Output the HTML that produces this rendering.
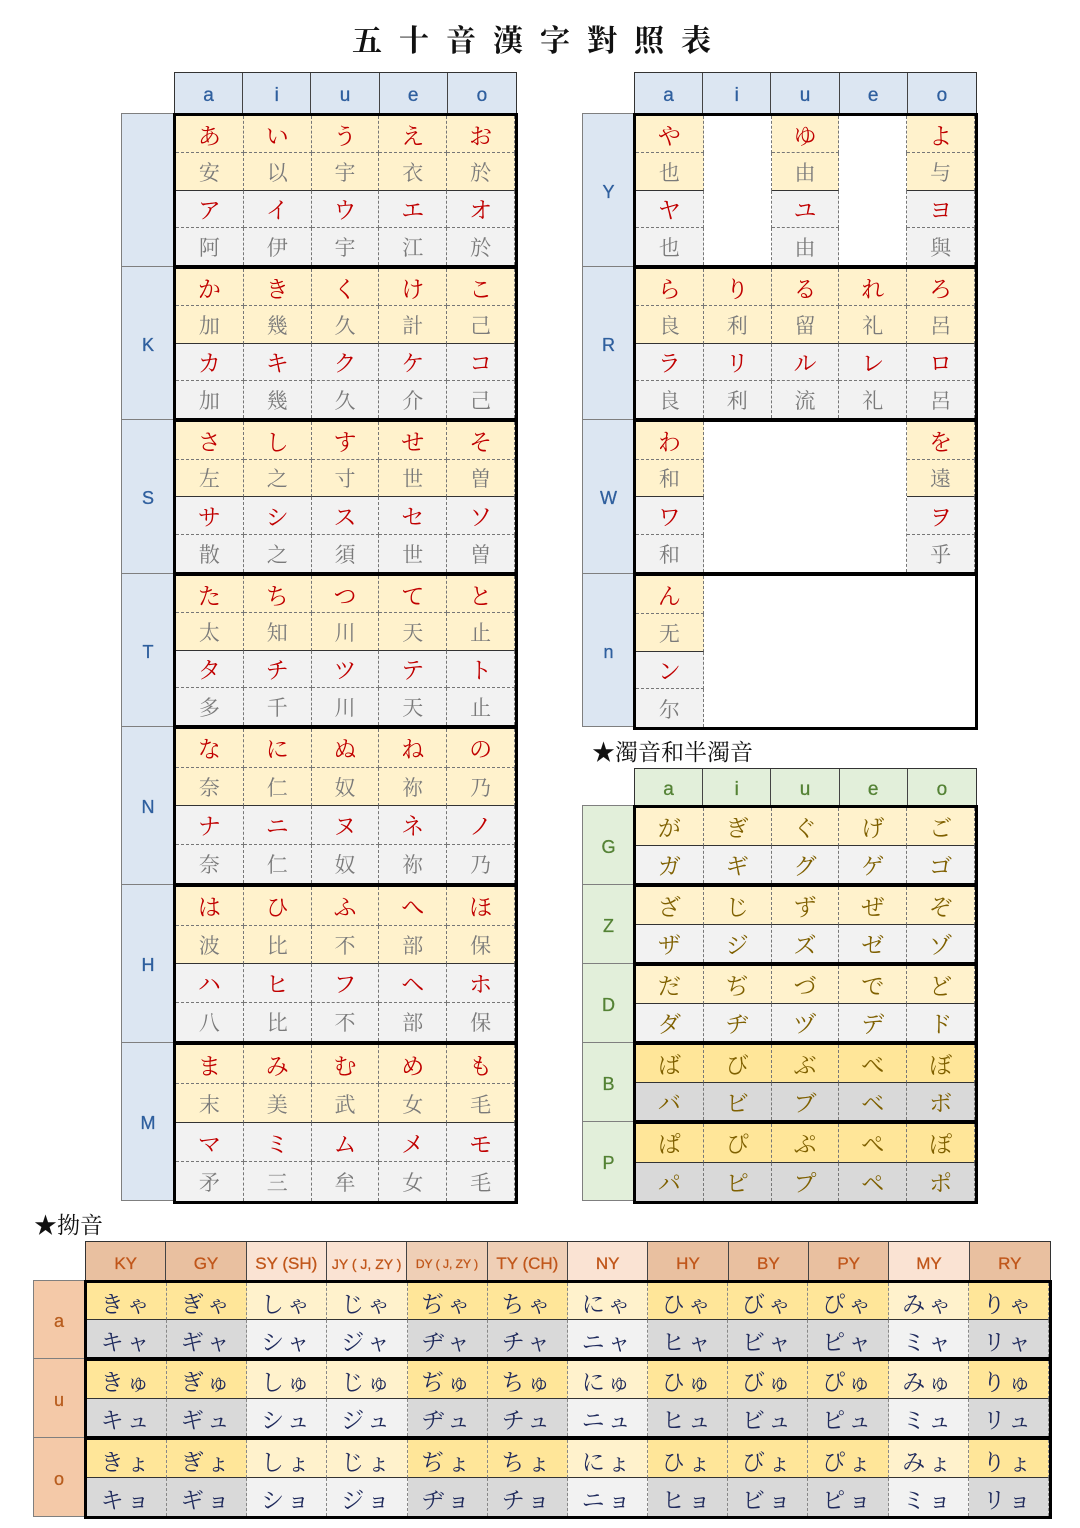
<!DOCTYPE html>
<html><head><meta charset="utf-8">
<style>
*{box-sizing:border-box;margin:0;padding:0}
body{width:1080px;height:1528px;background:#fff;position:relative;overflow:hidden;font-family:"Liberation Serif","Noto Serif CJK SC",serif}
.p{position:absolute}
.title{left:0;width:1080px;top:16px;text-align:center;font-size:30px;font-weight:bold;letter-spacing:17px;font-family:"Liberation Serif","Noto Serif CJK SC",serif;color:#111}
.st{font-size:23px;color:#111;font-family:"Liberation Serif","Noto Serif CJK SC",serif}
.hd{display:grid;border:1px solid #333}
.hd span{display:flex;align-items:center;justify-content:center;border-right:1px solid #444;font-family:"Liberation Sans",sans-serif;font-size:19px;padding-top:5px;-webkit-text-stroke:0.3px}
.hd span:last-child{border-right:none}
.hb{background:#dce6f2;color:#2f5f9e}
.hg{background:#e2efda;color:#548235}
.lb{display:flex;align-items:center;justify-content:center;border:1px solid #7f7f7f;font-family:"Liberation Sans",sans-serif;font-size:18px;padding-top:4px;-webkit-text-stroke:0.3px}
.lbb{background:#dce6f2;color:#2f5f9e}
.lbg{background:#e2efda;color:#548235}
.lbo{background:#f4c9a8;color:#b85d1e}
.blk{display:grid;border:3.5px solid #000;grid-template-columns:repeat(5,1fr)}
.r4{grid-template-rows:repeat(4,1fr)}
.r2{grid-template-rows:repeat(2,1fr)}
.blk span{display:flex;align-items:center;justify-content:center;border-right:1px dashed #777;font-size:23px;line-height:1;padding-top:4px}
.a{background:#fff2cc;color:#c00000;border-bottom:1px dashed #777}
.b{background:#fff2cc;color:#7a7a7a;border-bottom:1.5px solid #333;font-size:21px!important}
.c{background:#f2f2f2;color:#c00000;border-bottom:1px dashed #777}
.d{background:#f2f2f2;color:#7a7a7a;font-size:21px!important}
.w{background:#fff}
.e{background:#fff2cc;color:#7f6000;border-bottom:1.5px solid #333}
.f{background:#f2f2f2;color:#7f6000}
.g{background:#ffe699;color:#7f6000;border-bottom:1.5px solid #333}
.h{background:#d9d9d9;color:#7f6000}
.yo{display:grid;border:3.5px solid #000;grid-template-columns:repeat(12,1fr);grid-template-rows:repeat(2,1fr)}
.yo span{display:flex;align-items:center;justify-content:center;border-right:1px dashed #888;font-size:23px;color:#1f2a5c;letter-spacing:3px;padding-top:3px}
.yo span:nth-child(-n+12){background:#ffe699;border-bottom:1.5px solid #333}
.yo span:nth-child(n+13){background:#d9d9d9}
.yo span:nth-child(3),.yo span:nth-child(4),.yo span:nth-child(7),.yo span:nth-child(11){background:#fff2cc}
.yo span:nth-child(15),.yo span:nth-child(16),.yo span:nth-child(19),.yo span:nth-child(23){background:#f2f2f2}
.ho span{color:#c0561a;font-size:17px;background:#e9c0a0}
.ho span:nth-child(3),.ho span:nth-child(4),.ho span:nth-child(7),.ho span:nth-child(11){background:#fae3d3}
.ho span:nth-child(5),.ho span:nth-child(6){background:#efcfb6}
</style></head><body>
<div class="p title">五十音漢字對照表</div>

<div class="p hd hb" style="left:174px;top:72px;width:343px;height:42px;grid-template-columns:repeat(5,1fr)"><span>a</span><span>i</span><span>u</span><span>e</span><span>o</span></div>
<div class="p lb lbb" style="left:121px;top:113px;width:54px;height:154px"></div>
<div class="p lb lbb" style="left:121px;top:266px;width:54px;height:154px">K</div>
<div class="p lb lbb" style="left:121px;top:419px;width:54px;height:155px">S</div>
<div class="p lb lbb" style="left:121px;top:573px;width:54px;height:154px">T</div>
<div class="p lb lbb" style="left:121px;top:726px;width:54px;height:159px">N</div>
<div class="p lb lbb" style="left:121px;top:884px;width:54px;height:159px">H</div>
<div class="p lb lbb" style="left:121px;top:1042px;width:54px;height:159px">M</div>

<div class="p blk r4" style="left:173px;top:113px;width:345px;height:155px"><span class="a">あ</span><span class="a">い</span><span class="a">う</span><span class="a">え</span><span class="a">お</span><span class="b">安</span><span class="b">以</span><span class="b">宇</span><span class="b">衣</span><span class="b">於</span><span class="c">ア</span><span class="c">イ</span><span class="c">ウ</span><span class="c">エ</span><span class="c">オ</span><span class="d">阿</span><span class="d">伊</span><span class="d">宇</span><span class="d">江</span><span class="d">於</span></div>
<div class="p blk r4" style="left:173px;top:266px;width:345px;height:155px"><span class="a">か</span><span class="a">き</span><span class="a">く</span><span class="a">け</span><span class="a">こ</span><span class="b">加</span><span class="b">幾</span><span class="b">久</span><span class="b">計</span><span class="b">己</span><span class="c">カ</span><span class="c">キ</span><span class="c">ク</span><span class="c">ケ</span><span class="c">コ</span><span class="d">加</span><span class="d">幾</span><span class="d">久</span><span class="d">介</span><span class="d">己</span></div>
<div class="p blk r4" style="left:173px;top:419px;width:345px;height:156px"><span class="a">さ</span><span class="a">し</span><span class="a">す</span><span class="a">せ</span><span class="a">そ</span><span class="b">左</span><span class="b">之</span><span class="b">寸</span><span class="b">世</span><span class="b">曽</span><span class="c">サ</span><span class="c">シ</span><span class="c">ス</span><span class="c">セ</span><span class="c">ソ</span><span class="d">散</span><span class="d">之</span><span class="d">須</span><span class="d">世</span><span class="d">曽</span></div>
<div class="p blk r4" style="left:173px;top:573px;width:345px;height:155px"><span class="a">た</span><span class="a">ち</span><span class="a">つ</span><span class="a">て</span><span class="a">と</span><span class="b">太</span><span class="b">知</span><span class="b">川</span><span class="b">天</span><span class="b">止</span><span class="c">タ</span><span class="c">チ</span><span class="c">ツ</span><span class="c">テ</span><span class="c">ト</span><span class="d">多</span><span class="d">千</span><span class="d">川</span><span class="d">天</span><span class="d">止</span></div>
<div class="p blk r4" style="left:173px;top:726px;width:345px;height:160px"><span class="a">な</span><span class="a">に</span><span class="a">ぬ</span><span class="a">ね</span><span class="a">の</span><span class="b">奈</span><span class="b">仁</span><span class="b">奴</span><span class="b">祢</span><span class="b">乃</span><span class="c">ナ</span><span class="c">ニ</span><span class="c">ヌ</span><span class="c">ネ</span><span class="c">ノ</span><span class="d">奈</span><span class="d">仁</span><span class="d">奴</span><span class="d">祢</span><span class="d">乃</span></div>
<div class="p blk r4" style="left:173px;top:884px;width:345px;height:160px"><span class="a">は</span><span class="a">ひ</span><span class="a">ふ</span><span class="a">へ</span><span class="a">ほ</span><span class="b">波</span><span class="b">比</span><span class="b">不</span><span class="b">部</span><span class="b">保</span><span class="c">ハ</span><span class="c">ヒ</span><span class="c">フ</span><span class="c">ヘ</span><span class="c">ホ</span><span class="d">八</span><span class="d">比</span><span class="d">不</span><span class="d">部</span><span class="d">保</span></div>
<div class="p blk r4" style="left:173px;top:1042px;width:345px;height:162px"><span class="a">ま</span><span class="a">み</span><span class="a">む</span><span class="a">め</span><span class="a">も</span><span class="b">末</span><span class="b">美</span><span class="b">武</span><span class="b">女</span><span class="b">毛</span><span class="c">マ</span><span class="c">ミ</span><span class="c">ム</span><span class="c">メ</span><span class="c">モ</span><span class="d">矛</span><span class="d">三</span><span class="d">牟</span><span class="d">女</span><span class="d">毛</span></div>

<div class="p hd hb" style="left:634px;top:72px;width:343px;height:42px;grid-template-columns:repeat(5,1fr)"><span>a</span><span>i</span><span>u</span><span>e</span><span>o</span></div>
<div class="p lb lbb" style="left:582px;top:113px;width:53px;height:154px">Y</div>
<div class="p lb lbb" style="left:582px;top:266px;width:53px;height:154px">R</div>
<div class="p lb lbb" style="left:582px;top:419px;width:53px;height:155px">W</div>
<div class="p lb lbb" style="left:582px;top:573px;width:53px;height:154px">n</div>

<div class="p blk r4" style="left:633px;top:113px;width:345px;height:155px"><span class="a">や</span><span class="w"></span><span class="a">ゆ</span><span class="w"></span><span class="a">よ</span><span class="b">也</span><span class="w"></span><span class="b">由</span><span class="w"></span><span class="b">与</span><span class="c">ヤ</span><span class="w"></span><span class="c">ユ</span><span class="w"></span><span class="c">ヨ</span><span class="d">也</span><span class="w"></span><span class="d">由</span><span class="w"></span><span class="d">與</span></div>
<div class="p blk r4" style="left:633px;top:266px;width:345px;height:155px"><span class="a">ら</span><span class="a">り</span><span class="a">る</span><span class="a">れ</span><span class="a">ろ</span><span class="b">良</span><span class="b">利</span><span class="b">留</span><span class="b">礼</span><span class="b">呂</span><span class="c">ラ</span><span class="c">リ</span><span class="c">ル</span><span class="c">レ</span><span class="c">ロ</span><span class="d">良</span><span class="d">利</span><span class="d">流</span><span class="d">礼</span><span class="d">呂</span></div>
<div class="p blk r4" style="left:633px;top:419px;width:345px;height:156px"><span class="w" style="grid-column:2/5;grid-row:1/5"></span><span class="a">わ</span><span class="a">を</span><span class="b">和</span><span class="b">遠</span><span class="c">ワ</span><span class="c">ヲ</span><span class="d">和</span><span class="d">乎</span></div>
<div class="p blk r4" style="left:633px;top:573px;width:345px;height:157px"><span class="w" style="grid-column:2/6;grid-row:1/5;border-right:none"></span><span class="a">ん</span><span class="b">无</span><span class="c">ン</span><span class="d">尔</span></div>

<div class="p st" style="left:592px;top:734px">★濁音和半濁音</div>
<div class="p hd hg" style="left:634px;top:768px;width:343px;height:38px;grid-template-columns:repeat(5,1fr)"><span>a</span><span>i</span><span>u</span><span>e</span><span>o</span></div>
<div class="p lb lbg" style="left:582px;top:805px;width:53px;height:80px">G</div>
<div class="p lb lbg" style="left:582px;top:884px;width:53px;height:80px">Z</div>
<div class="p lb lbg" style="left:582px;top:963px;width:53px;height:80px">D</div>
<div class="p lb lbg" style="left:582px;top:1042px;width:53px;height:80px">B</div>
<div class="p lb lbg" style="left:582px;top:1121px;width:53px;height:80px">P</div>
<div class="p blk r2" style="left:633px;top:805px;width:345px;height:81px"><span class="e">が</span><span class="e">ぎ</span><span class="e">ぐ</span><span class="e">げ</span><span class="e">ご</span><span class="f">ガ</span><span class="f">ギ</span><span class="f">グ</span><span class="f">ゲ</span><span class="f">ゴ</span></div>
<div class="p blk r2" style="left:633px;top:884px;width:345px;height:81px"><span class="e">ざ</span><span class="e">じ</span><span class="e">ず</span><span class="e">ぜ</span><span class="e">ぞ</span><span class="f">ザ</span><span class="f">ジ</span><span class="f">ズ</span><span class="f">ゼ</span><span class="f">ゾ</span></div>
<div class="p blk r2" style="left:633px;top:963px;width:345px;height:81px"><span class="e">だ</span><span class="e">ぢ</span><span class="e">づ</span><span class="e">で</span><span class="e">ど</span><span class="f">ダ</span><span class="f">ヂ</span><span class="f">ヅ</span><span class="f">デ</span><span class="f">ド</span></div>
<div class="p blk r2" style="left:633px;top:1042px;width:345px;height:81px"><span class="g">ば</span><span class="g">び</span><span class="g">ぶ</span><span class="g">べ</span><span class="g">ぼ</span><span class="h">バ</span><span class="h">ビ</span><span class="h">ブ</span><span class="h">ベ</span><span class="h">ボ</span></div>
<div class="p blk r2" style="left:633px;top:1121px;width:345px;height:83px"><span class="g">ぱ</span><span class="g">ぴ</span><span class="g">ぷ</span><span class="g">ぺ</span><span class="g">ぽ</span><span class="h">パ</span><span class="h">ピ</span><span class="h">プ</span><span class="h">ペ</span><span class="h">ポ</span></div>

<div class="p st" style="left:34px;top:1207px">★拗音</div>
<div class="p hd ho" style="left:85px;top:1241px;width:966px;height:40px;grid-template-columns:repeat(12,1fr)"><span>KY</span><span>GY</span><span>SY (SH)</span><span style="font-size:14px">JY ( J, ZY )</span><span style="font-size:12px">DY ( J, ZY )</span><span>TY (CH)</span><span>NY</span><span>HY</span><span>BY</span><span>PY</span><span>MY</span><span>RY</span></div>
<div class="p lb lbo" style="left:33px;top:1280px;width:52px;height:79px">a</div>
<div class="p lb lbo" style="left:33px;top:1358px;width:52px;height:80px">u</div>
<div class="p lb lbo" style="left:33px;top:1437px;width:52px;height:80px">o</div>
<div class="p yo" style="left:84px;top:1280px;width:968px;height:80px"><span>きゃ</span><span>ぎゃ</span><span>しゃ</span><span>じゃ</span><span>ぢゃ</span><span>ちゃ</span><span>にゃ</span><span>ひゃ</span><span>びゃ</span><span>ぴゃ</span><span>みゃ</span><span>りゃ</span><span>キャ</span><span>ギャ</span><span>シャ</span><span>ジャ</span><span>ヂャ</span><span>チャ</span><span>ニャ</span><span>ヒャ</span><span>ビャ</span><span>ピャ</span><span>ミャ</span><span>リャ</span></div>
<div class="p yo" style="left:84px;top:1358px;width:968px;height:81px"><span>きゅ</span><span>ぎゅ</span><span>しゅ</span><span>じゅ</span><span>ぢゅ</span><span>ちゅ</span><span>にゅ</span><span>ひゅ</span><span>びゅ</span><span>ぴゅ</span><span>みゅ</span><span>りゅ</span><span>キュ</span><span>ギュ</span><span>シュ</span><span>ジュ</span><span>ヂュ</span><span>チュ</span><span>ニュ</span><span>ヒュ</span><span>ビュ</span><span>ピュ</span><span>ミュ</span><span>リュ</span></div>
<div class="p yo" style="left:84px;top:1437px;width:968px;height:82px"><span>きょ</span><span>ぎょ</span><span>しょ</span><span>じょ</span><span>ぢょ</span><span>ちょ</span><span>にょ</span><span>ひょ</span><span>びょ</span><span>ぴょ</span><span>みょ</span><span>りょ</span><span>キョ</span><span>ギョ</span><span>ショ</span><span>ジョ</span><span>ヂョ</span><span>チョ</span><span>ニョ</span><span>ヒョ</span><span>ビョ</span><span>ピョ</span><span>ミョ</span><span>リョ</span></div>
</body></html>
